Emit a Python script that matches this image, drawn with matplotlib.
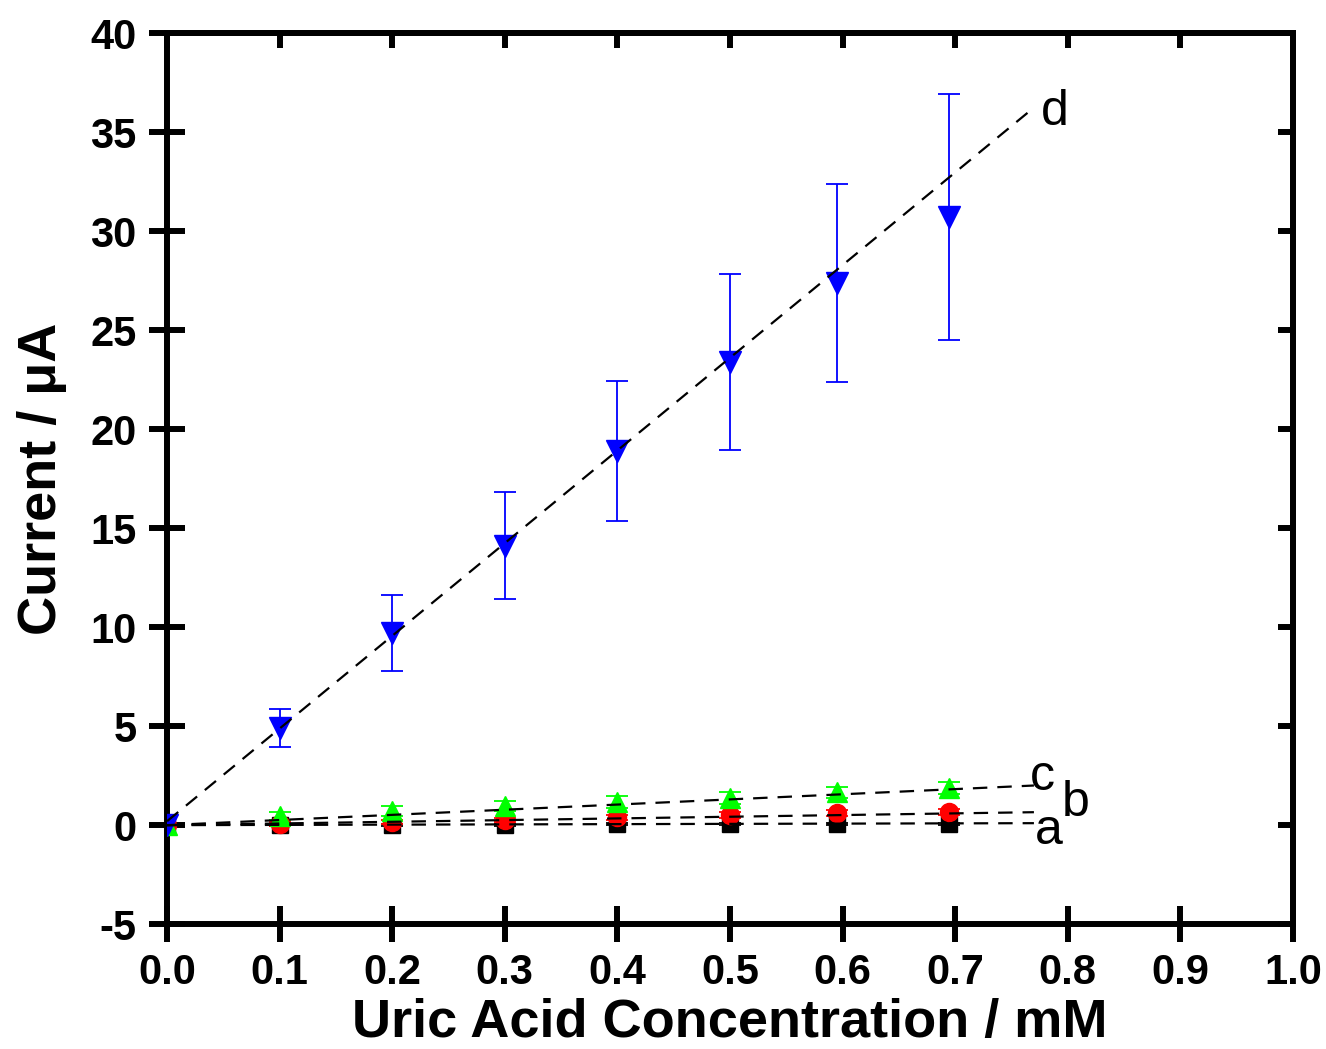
import numpy as np
import matplotlib
matplotlib.use("Agg")
import matplotlib.pyplot as plt

plt.rcParams['font.family'] = ['Liberation Sans', 'DejaVu Sans']
plt.rcParams['axes.unicode_minus'] = False

# uric acid concentration (mM)
conc = [0.0, 0.1, 0.2, 0.3, 0.4, 0.5, 0.595, 0.695]

# currents (uA) for the four electrodes a-d
cur_a = [0.0, 0.0, 0.02, 0.03, 0.04, 0.05, 0.06, 0.07]
cur_b = [0.0, 0.05, 0.15, 0.25, 0.4, 0.5, 0.6, 0.65]
cur_c = [0.0, 0.45, 0.7, 0.95, 1.15, 1.38, 1.65, 1.88]
cur_d = [0.0, 4.9, 9.7, 14.1, 18.9, 23.4, 27.4, 30.7]

# error bar half-widths (uA)
err_a = [0.0, 0.05, 0.05, 0.05, 0.05, 0.05, 0.05, 0.05]
err_b = [0.0, 0.1, 0.1, 0.1, 0.12, 0.15, 0.15, 0.15]
err_c = [0.0, 0.2, 0.25, 0.25, 0.3, 0.3, 0.3, 0.3]
err_d = [0.0, 0.95, 1.9, 2.7, 3.55, 4.45, 5.0, 6.2]

# linear fits (slope, intercept) and curve labels
fit_slope = [0.13, 0.85, 2.6, 46.8]
fit_icpt = [0.0, 0.0, 0.0, 0.2]
names = ['a', 'b', 'c', 'd']
label_xy = [(0.771, -0.3), (0.795, 1.1), (0.766, 2.45), (0.776, 36.0)]

colors = ['black', 'red', '#00ff00', 'blue']
markers = ['s', 'o', '^', 'v']
msizes = [11, 13, 15, 16]

fig = plt.figure(figsize=(13.26, 10.49), dpi=100)
ax = fig.add_axes([0.126, 0.119, 0.849, 0.8495])

series = [(cur_a, err_a), (cur_b, err_b), (cur_c, err_c), (cur_d, err_d)]
for (y, e), col, mk, ms in zip(series, colors, markers, msizes):
    ax.errorbar(conc, y, yerr=e, fmt=mk, color=col, ms=ms, mec=col,
                ecolor=col, elinewidth=1.3, capsize=8, capthick=1.3, zorder=3)

xfit = np.linspace(0, 0.77, 50)
for k, b in zip(fit_slope, fit_icpt):
    ax.plot(xfit, k * xfit + b, color='black', ls='--', lw=1.6,
            dashes=(6.5, 4.5), zorder=4)

for n, (tx, ty) in zip(names, label_xy):
    ax.text(tx, ty, n, fontsize=36, va='center', ha='left')

xt = np.arange(0, 1.01, 0.1)
yt = np.arange(-5, 41, 5)
ax.set_xlim(0, 1.0)
ax.set_ylim(-5, 40)
ax.set_xticks(xt)
ax.set_yticks(yt)
ax.set_xticklabels([f"{v:.1f}" for v in xt])

for sp in ax.spines.values():
    sp.set_linewidth(4.3)

ax.tick_params(axis='both', which='major', direction='inout', length=26,
               width=4.3, labelsize=30)
ax.tick_params(axis='x', pad=8)
ax.tick_params(axis='y', pad=9)
for lab in ax.get_xticklabels() + ax.get_yticklabels():
    lab.set_fontweight('bold')

# short inward ticks on top and right
top = ax.secondary_xaxis('top')
top.set_xticks(xt)
top.tick_params(direction='in', length=11, width=4.3, labeltop=False)
right = ax.secondary_yaxis('right')
right.set_yticks(yt)
right.tick_params(direction='in', length=11, width=4.3, labelright=False)
for s in (top, right):
    for sp in s.spines.values():
        sp.set_linewidth(4.3)

ax.set_xlabel('Uric Acid Concentration / mM', fontsize=39, fontweight='bold', labelpad=3)
ax.set_ylabel('Current / \u03bcA', fontsize=39, fontweight='bold', labelpad=17)

fig.savefig('out.png', dpi=100)
